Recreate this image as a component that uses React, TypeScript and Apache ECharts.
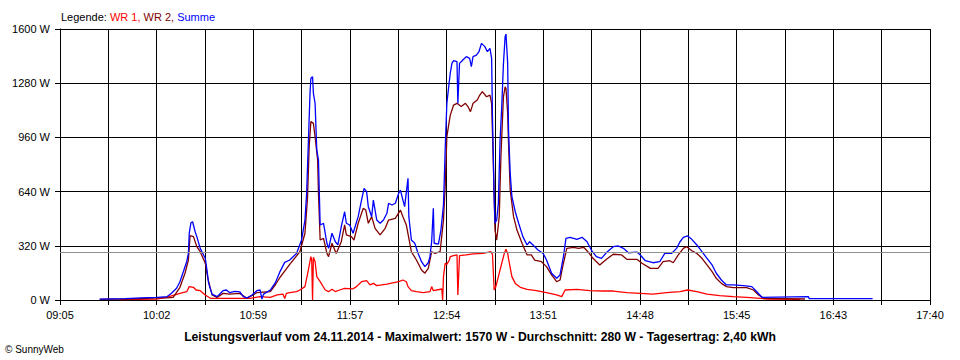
import React, { useEffect, useRef } from "react";
import * as echarts from "echarts";

// ---- data ----
const axisStart = "09:05";
const axisEnd = "17:40";
const gridSteps = 18;
const tickLabels = ["09:05", "10:02", "10:59", "11:57", "12:54", "13:51", "14:48", "15:45", "16:43", "17:40"];
const yTicks = { min: 0, max: 1600, interval: 320 };
const avgWatt = 280;

const legendParts = ["Legende:", "WR 1,", "WR 2,", "Summe"];
const footerTitle = "Leistungsverlauf vom 24.11.2014 - Maximalwert: 1570 W - Durchschnitt: 280 W - Tagesertrag: 2,40 kWh";
const copyright = "© SunnyWeb";

// WR 1 (red)
const wr1: [string, number][] = [
  ["09:40:30", 2], ["10:02:00", 5], ["10:08:00", 16], ["10:13:00", 30], ["10:16:00", 39], ["10:20:00", 49],
  ["10:21:30", 79], ["10:24:00", 75], ["10:25:30", 59], ["10:28:00", 55], ["10:31:00", 30], ["10:34:00", 10],
  ["10:45:30", 10], ["10:57:30", 10], ["11:03:30", 20], ["11:09:30", 16], ["11:13:30", 30], ["11:17:00", 35],
  ["11:18:00", 8], ["11:19:00", 39], ["11:21:00", 43], ["11:25:00", 49], ["11:27:00", 59], ["11:30:00", 79],
  ["11:32:00", 177], ["11:33:30", 256], ["11:34:00", 236], ["11:34:30", 0], ["11:35:00", 252], ["11:36:00", 226],
  ["11:37:00", 138], ["11:39:00", 108], ["11:42:00", 59], ["11:44:00", 49], ["11:46:00", 63], ["11:48:00", 50],
  ["11:50:30", 59], ["11:53:30", 69], ["11:58:30", 66], ["12:00:30", 79], ["12:03:30", 108], ["12:06:30", 114],
  ["12:08:30", 89], ["12:10:30", 98], ["12:12:30", 85], ["12:18:30", 94], ["12:25:30", 108], ["12:28:00", 118],
  ["12:30:00", 108], ["12:31:00", 79], ["12:33:00", 55], ["12:36:00", 49], ["12:40:00", 43], ["12:44:00", 49],
  ["12:45:00", 79], ["12:46:00", 55], ["12:51:00", 65], ["12:51:30", 0], ["12:52:00", 138], ["12:53:00", 217],
  ["12:54:00", 210], ["12:55:30", 236], ["12:56:00", 256], ["12:58:00", 262], ["13:00:00", 266], ["13:00:30", 30],
  ["13:01:30", 262], ["13:05:30", 266], ["13:09:30", 272], ["13:15:30", 275], ["13:20:00", 285], ["13:21:00", 270],
  ["13:22:00", 59], ["13:23:00", 79], ["13:24:30", 138], ["13:26:30", 217], ["13:28:00", 275], ["13:29:00", 299],
  ["13:30:00", 275], ["13:31:00", 217], ["13:32:30", 138], ["13:34:30", 98], ["13:37:30", 75], ["13:41:30", 63],
  ["13:47:00", 55], ["13:53:00", 43], ["13:59:00", 30], ["14:02:00", 20], ["14:04:00", 59], ["14:11:00", 63],
  ["14:18:30", 55], ["14:26:30", 53], ["14:32:30", 53], ["14:40:30", 43], ["14:48:30", 39], ["14:56:00", 35],
  ["15:04:00", 43], ["15:12:00", 49], ["15:16:30", 59], ["15:22:00", 49], ["15:28:00", 35], ["15:35:30", 26],
  ["15:43:30", 20], ["15:51:30", 16], ["15:59:30", 10], ["16:03:30", 6], ["16:23:00", 4],
];

// WR 2 (dark red)
const wr2: [string, number][] = [
  ["09:28:30", 4], ["09:43:30", 6], ["09:53:30", 9], ["10:02:30", 12], ["10:08:30", 12], ["10:12:00", 15],
  ["10:16:00", 75], ["10:19:00", 158], ["10:21:00", 236], ["10:22:00", 380], ["10:24:00", 374], ["10:26:00", 315],
  ["10:28:00", 285], ["10:31:00", 217], ["10:32:30", 128], ["10:35:00", 30], ["10:38:00", 15], ["10:41:30", 39],
  ["10:45:30", 35], ["10:51:30", 39], ["10:55:30", 10], ["11:01:30", 43], ["11:09:30", 49], ["11:12:30", 90],
  ["11:15:00", 130], ["11:21:00", 210], ["11:27:00", 285], ["11:30:00", 394], ["11:31:30", 600], ["11:32:30", 905],
  ["11:33:30", 1053], ["11:35:00", 1043], ["11:36:00", 964], ["11:37:30", 827], ["11:38:00", 630], ["11:39:00", 354],
  ["11:41:00", 364], ["11:43:00", 275], ["11:44:00", 256], ["11:46:00", 335], ["11:48:30", 275], ["11:51:30", 344],
  ["11:53:30", 443], ["11:54:30", 384], ["11:57:30", 374], ["11:59:00", 354], ["12:01:30", 453], ["12:04:30", 541],
  ["12:06:00", 531], ["12:07:30", 453], ["12:09:30", 492], ["12:11:30", 423], ["12:14:30", 384], ["12:17:30", 423],
  ["12:19:30", 472], ["12:23:30", 482], ["12:26:30", 531], ["12:28:00", 492], ["12:30:00", 443], ["12:33:00", 285],
  ["12:36:00", 236], ["12:39:00", 177], ["12:41:00", 158], ["12:43:00", 187], ["12:45:00", 285], ["12:47:00", 275],
  ["12:50:00", 285], ["12:52:00", 472], ["12:53:00", 669], ["12:54:00", 964], ["12:56:00", 1090], ["12:58:00", 1151],
  ["13:00:00", 1161], ["13:02:30", 1142], ["13:05:00", 1161], ["13:06:30", 1142], ["13:08:00", 1112], ["13:09:30", 1161],
  ["13:12:00", 1181], ["13:13:30", 1210], ["13:15:00", 1230], ["13:17:30", 1200], ["13:19:30", 1210], ["13:20:30", 1161],
  ["13:21:30", 807], ["13:22:30", 413], ["13:23:30", 354], ["13:25:00", 492], ["13:26:00", 846], ["13:27:30", 1200],
  ["13:28:30", 1259], ["13:29:00", 1249], ["13:30:00", 1102], ["13:30:30", 925], ["13:31:30", 649], ["13:33:30", 492],
  ["13:35:30", 413], ["13:38:30", 335], ["13:41:30", 266], ["13:44:00", 266], ["13:46:00", 236], ["13:50:00", 226],
  ["13:53:00", 197], ["13:56:00", 148], ["13:59:00", 108], ["14:01:00", 118], ["14:03:00", 217], ["14:05:00", 305],
  ["14:09:00", 311], ["14:12:00", 305], ["14:15:00", 311], ["14:17:30", 285], ["14:20:30", 246], ["14:24:30", 207],
  ["14:28:30", 240], ["14:32:30", 270], ["14:37:30", 266], ["14:40:30", 240], ["14:46:30", 240], ["14:49:30", 217],
  ["14:54:30", 187], ["14:59:00", 187], ["15:02:00", 226], ["15:06:00", 232], ["15:08:00", 220], ["15:11:00", 266],
  ["15:14:00", 305], ["15:16:00", 315], ["15:19:00", 291], ["15:22:00", 275], ["15:25:00", 246], ["15:28:00", 207],
  ["15:31:00", 167], ["15:33:30", 128], ["15:36:30", 98], ["15:39:30", 79], ["15:43:30", 73], ["15:51:30", 73],
  ["15:55:30", 59], ["15:58:30", 30], ["16:01:30", 10], ["16:26:00", 6],
];

// Summe (blue)
const summe: [string, number][] = [
  ["09:28:30", 5], ["09:43:30", 8], ["09:53:30", 12], ["10:02:30", 16], ["10:08:30", 20], ["10:11:00", 40],
  ["10:14:00", 69], ["10:16:00", 108], ["10:18:00", 167], ["10:20:00", 226], ["10:21:00", 275], ["10:21:30", 393],
  ["10:22:30", 456], ["10:23:30", 462], ["10:25:00", 403], ["10:26:00", 374], ["10:28:00", 305], ["10:30:00", 266],
  ["10:31:00", 246], ["10:32:00", 177], ["10:33:00", 98], ["10:35:00", 35], ["10:38:00", 20], ["10:41:30", 55],
  ["10:43:30", 59], ["10:45:30", 43], ["10:48:30", 51], ["10:51:30", 48], ["10:53:30", 20], ["10:55:30", 12],
  ["10:58:30", 28], ["11:01:30", 55], ["11:03:30", 59], ["11:04:30", 5], ["11:05:30", 35], ["11:09:30", 59],
  ["11:12:30", 102], ["11:15:00", 163], ["11:18:00", 222], ["11:21:00", 236], ["11:25:00", 275], ["11:28:00", 354],
  ["11:30:00", 472], ["11:31:00", 630], ["11:32:00", 925], ["11:33:00", 1220], ["11:33:30", 1309], ["11:34:30", 1318],
  ["11:35:00", 1220], ["11:36:00", 1161], ["11:37:00", 886], ["11:38:00", 827], ["11:39:00", 443], ["11:41:00", 453],
  ["11:43:00", 335], ["11:44:00", 305], ["11:46:00", 394], ["11:48:00", 344], ["11:49:30", 325], ["11:51:30", 433],
  ["11:53:30", 521], ["11:54:30", 453], ["11:56:30", 443], ["11:58:30", 394], ["12:01:30", 492], ["12:03:30", 590],
  ["12:05:00", 659], ["12:06:30", 640], ["12:07:30", 551], ["12:09:30", 492], ["12:10:30", 590], ["12:12:30", 472],
  ["12:14:30", 453], ["12:16:30", 472], ["12:18:30", 512], ["12:19:30", 571], ["12:21:30", 561], ["12:23:30", 571],
  ["12:25:30", 630], ["12:26:30", 649], ["12:28:00", 590], ["12:29:00", 551], ["12:31:00", 718], ["12:31:30", 492],
  ["12:33:00", 354], ["12:35:00", 335], ["12:37:00", 275], ["12:39:00", 226], ["12:41:00", 197], ["12:43:00", 220],
  ["12:44:00", 256], ["12:45:00", 344], ["12:46:00", 541], ["12:46:30", 335], ["12:49:00", 330], ["12:50:30", 413],
  ["12:52:00", 560], ["12:53:00", 886], ["12:54:00", 1161], ["12:55:00", 1250], ["12:56:00", 1338], ["12:57:00", 1397],
  ["12:58:00", 1413], ["13:00:00", 1407], ["13:00:30", 1161], ["13:01:30", 1397], ["13:03:30", 1417], ["13:05:30", 1437],
  ["13:07:30", 1427], ["13:08:30", 1378], ["13:09:30", 1437], ["13:11:30", 1446], ["13:13:00", 1466], ["13:14:30", 1515],
  ["13:16:30", 1496], ["13:18:00", 1466], ["13:19:30", 1486], ["13:20:30", 1427], ["13:21:00", 1082], ["13:22:00", 610],
  ["13:22:30", 453], ["13:23:30", 472], ["13:24:30", 571], ["13:25:30", 945], ["13:26:30", 1142], ["13:27:30", 1397],
  ["13:28:30", 1555], ["13:29:00", 1570], ["13:30:00", 1397], ["13:30:30", 1004], ["13:31:30", 748], ["13:32:30", 610],
  ["13:34:30", 521], ["13:36:30", 453], ["13:39:00", 374], ["13:41:30", 325], ["13:43:00", 344], ["13:45:00", 325],
  ["13:48:00", 295], ["13:51:00", 275], ["13:53:00", 236], ["13:56:00", 158], ["13:59:00", 128], ["14:01:00", 148],
  ["14:03:00", 256], ["14:04:30", 364], ["14:07:00", 370], ["14:11:00", 358], ["14:14:00", 370], ["14:17:00", 344],
  ["14:19:30", 295], ["14:22:30", 256], ["14:25:30", 246], ["14:28:30", 280], ["14:32:30", 315], ["14:35:30", 319],
  ["14:38:30", 305], ["14:41:30", 279], ["14:46:30", 283], ["14:48:30", 266], ["14:51:30", 232], ["14:56:00", 220],
  ["15:00:00", 226], ["15:03:00", 275], ["15:07:00", 275], ["15:10:00", 305], ["15:12:00", 344], ["15:14:00", 370],
  ["15:16:30", 378], ["15:19:00", 358], ["15:22:00", 325], ["15:25:00", 285], ["15:28:00", 246], ["15:31:00", 207],
  ["15:33:30", 158], ["15:36:30", 118], ["15:39:30", 89], ["15:43:30", 89], ["15:49:30", 85], ["15:54:30", 79],
  ["15:57:30", 49], ["16:00:30", 16], ["16:28:00", 20], ["16:28:30", 8], ["17:06:00", 8],
];

// ---- helpers ----
const toMin = (t: string) => {
  const [h, m, s] = t.split(":").map(Number);
  return h * 60 + m + (s || 0) / 60;
};
const startMin = toMin(axisStart);
const stepMin = (toMin(axisEnd) - startMin) / gridSteps;
const toX = (t: string) => (toMin(t) - startMin) / stepMin;
const conv = (arr: [string, number][]) => arr.map(([t, v]) => [toX(t), v]);

const FONT = "'Liberation Sans', Arial, sans-serif";

export default function App() {
  const ref = useRef<HTMLDivElement>(null);
  useEffect(() => {
    if (!ref.current) return;
    const chart = echarts.init(ref.current, null, { renderer: "svg" });
    const lineBase = {
      type: "line" as const,
      showSymbol: false,
      symbol: "none",
      smooth: false,
      silent: true,
    };
    chart.setOption({
      animation: false,
      backgroundColor: "#ffffff",
      title: [
        {
          text: `{k|${legendParts[0]}} {r|${legendParts[1]}} {d|${legendParts[2]}} {b|${legendParts[3]}}`,
          left: 61,
          top: 10,
          padding: 0,
          textStyle: {
            fontFamily: FONT,
            fontSize: 11,
            fontWeight: "normal",
            rich: {
              k: { color: "#000000", fontSize: 11, fontFamily: FONT, lineHeight: 13 },
              r: { color: "#ff0000", fontSize: 11, fontFamily: FONT, lineHeight: 13 },
              d: { color: "#800000", fontSize: 11, fontFamily: FONT, lineHeight: 13 },
              b: { color: "#0000ff", fontSize: 11, fontFamily: FONT, lineHeight: 13 },
            },
          },
        },
        {
          text: footerTitle,
          left: "center",
          top: 330,
          padding: 0,
          textStyle: { fontFamily: FONT, fontSize: 12.2, fontWeight: "bold", color: "#000", lineHeight: 14 },
        },
        {
          text: copyright,
          left: 5,
          top: 343,
          padding: 0,
          textStyle: { fontFamily: FONT, fontSize: 10, fontWeight: "normal", color: "#000", lineHeight: 13 },
        },
      ],
      grid: { left: 60, right: 30, top: 29, bottom: 60, containLabel: false },
      xAxis: {
        type: "value",
        min: 0,
        max: gridSteps,
        interval: 1,
        axisLine: { show: true, lineStyle: { color: "#000", width: 1 } },
        axisTick: { show: true, length: 5, lineStyle: { color: "#000" } },
        splitLine: { show: true, lineStyle: { color: "#000", width: 1 } },
        axisLabel: {
          color: "#000",
          fontFamily: FONT,
          fontSize: 11,
          margin: 9,
          showMinLabel: true,
          showMaxLabel: true,
          formatter: (v: number) => {
            const i = Math.round(v);
            return i % 2 === 0 ? tickLabels[i / 2] : "";
          },
        },
      },
      yAxis: {
        type: "value",
        min: yTicks.min,
        max: yTicks.max,
        interval: yTicks.interval,
        axisLine: { show: true, lineStyle: { color: "#000", width: 1 } },
        axisTick: { show: true, length: 5, lineStyle: { color: "#000" } },
        splitLine: { show: true, lineStyle: { color: "#000", width: 1 } },
        axisLabel: {
          color: "#000",
          fontFamily: FONT,
          fontSize: 11,
          margin: 10,
          formatter: (v: number) => `${v} W`,
        },
      },
      series: [
        {
          ...lineBase,
          name: "WR 1",
          data: conv(wr1),
          lineStyle: { color: "#ff0000", width: 1.3 },
          itemStyle: { color: "#ff0000" },
          markLine: {
            silent: true,
            symbol: "none",
            label: { show: false },
            lineStyle: { color: "#909090", width: 1, type: "solid" },
            data: [{ yAxis: avgWatt }],
          },
        },
        {
          ...lineBase,
          name: "WR 2",
          data: conv(wr2),
          lineStyle: { color: "#800000", width: 1.3 },
          itemStyle: { color: "#800000" },
        },
        {
          ...lineBase,
          name: "Summe",
          data: conv(summe),
          lineStyle: { color: "#0000ff", width: 1.3 },
          itemStyle: { color: "#0000ff" },
        },
      ],
    });
    return () => chart.dispose();
  }, []);
  return (
    <div
      ref={ref}
      style={{ position: "fixed", left: 0, top: 0, width: 960, height: 360, background: "#fff" }}
    />
  );
}
